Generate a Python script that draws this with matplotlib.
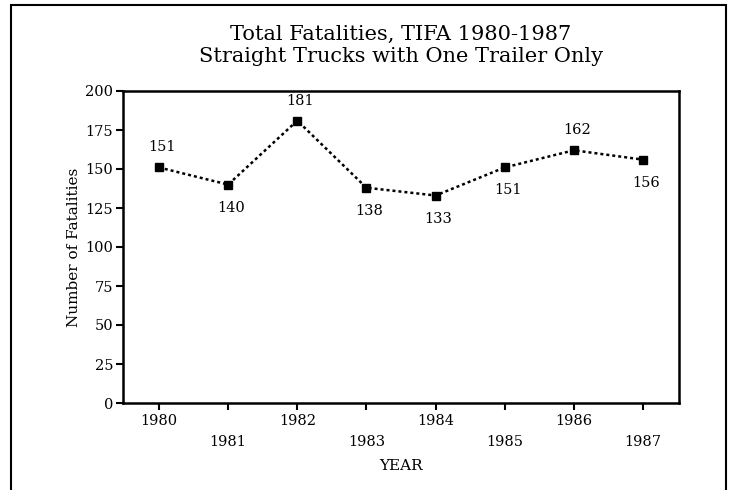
import matplotlib
matplotlib.use("Agg")
import matplotlib.pyplot as plt
from matplotlib.patches import Rectangle

years = [1980, 1981, 1982, 1983, 1984, 1985, 1986, 1987]
fatalities = [151, 140, 181, 138, 133, 151, 162, 156]
label_pos = ["above", "below", "above", "below", "below", "below", "above", "below"]
yticks = [0, 25, 50, 75, 100, 125, 150, 175, 200]

plt.rcParams['font.family'] = ['DejaVu Serif']

fig = plt.figure(figsize=(7.31, 4.90), dpi=100)
W, H = 731, 490
ax = fig.add_axes([123 / W, 1 - 403 / H, (679 - 123) / W, (403 - 91) / H])

ax.plot(years, fatalities, linestyle=(0, (1.2, 1.2)), color='black', linewidth=1.8,
        marker='s', markersize=5.5, markerfacecolor='black', markeredgecolor='black')

for x, y, p in zip(years, fatalities, label_pos):
    dy = 20 if p == "above" else -23
    ax.annotate(str(y), (x, y), xytext=(3, dy), textcoords='offset pixels',
                ha='center', va='center', fontsize=10.5)

ax.set_xlim(1979.48, 1987.52)
ax.set_ylim(0, 200)
ax.set_yticks(yticks)
ax.set_yticklabels([str(v) for v in yticks], fontsize=10.5)
ax.set_xticks(years)
labels = [str(y) if i % 2 == 0 else "\n" + str(y) for i, y in enumerate(years)]
ax.set_xticklabels(labels, fontsize=10.5, linespacing=1.6)
ax.tick_params(axis='both', direction='out', length=5, width=1.5, pad=2)
ax.tick_params(axis='x', pad=3)
for s in ax.spines.values():
    s.set_linewidth(1.8)

ax.set_xlabel("YEAR", fontsize=11)
ax.xaxis.set_label_coords(0.5, -0.18)
ax.set_ylabel("Number of Fatalities", fontsize=11)
ax.yaxis.set_label_coords(-0.075, 0.5)

cx = 0.5 + 0.5 * (123 + 679 - W) / W
fig.text(cx, 1 - 34 / H, "Total Fatalities, TIFA 1980-1987",
         ha='center', va='center', fontsize=15)
fig.text(cx, 1 - 57 / H, "Straight Trucks with One Trailer Only",
         ha='center', va='center', fontsize=15)

fig.patches.append(Rectangle((11 / W, -0.05), (726 - 11) / W, 1.05 - 5 / H,
                             transform=fig.transFigure, fill=False,
                             edgecolor='black', linewidth=1.5))

fig.savefig("out.png", dpi=100)
